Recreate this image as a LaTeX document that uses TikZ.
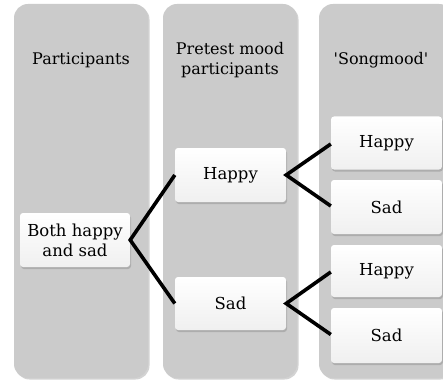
\documentclass[tikz,border=0pt]{standalone}
\usepackage{fontspec}
\setmainfont{DejaVu Serif}[Ligatures=TeXOff]
\usetikzlibrary{shadows}
\begin{document}
\begin{tikzpicture}[x=1pt,y=-1pt,
  colbox/.style={draw=none, fill=colgray, rounded corners=14pt, minimum width=134pt, minimum height=374pt,
    drop shadow={shadow xshift=1.5pt, shadow yshift=-1.5pt, opacity=0.35}},
  title/.style={align=center, font=\fontsize{16}{20}\selectfont, text=black},
  item/.style={draw=none, rounded corners=3pt, top color=white, bottom color=black!6, minimum width=111pt, minimum height=53pt,
    align=center, font=\fontsize{16.5}{20}\selectfont, inner sep=1pt,
    drop shadow={shadow xshift=1pt, shadow yshift=-2pt, opacity=0.4}},
  link/.style={line width=3.6pt, line join=miter}
]
\definecolor{colgray}{RGB}{203,203,203}
\useasboundingbox (0,0) rectangle (443,382);
\begin{scope}
\clip (0,0) rectangle (443,382);
\node[colbox] (col1) at (81,191) {};
\node[colbox] (col2) at (230,191) {};
\node[colbox] (col3) at (386,191) {};
\node[title] (t1) at (81,60) {Participants};
\node[title] (t2) at (230,60) {Pretest mood\\participants};
\node[title] (t3) at (381,60) {'Songmood'};
\node[item, minimum width=110pt, minimum height=54pt] (both) at (75,240) {Both happy\\and sad};
\node[item, minimum height=54pt] (h2) at (230.5,175) {Happy};
\node[item] (s2) at (230.5,303.5) {Sad};
\node[item] (h3a) at (386.5,143) {Happy};
\node[item, minimum height=54pt] (s3a) at (386.5,207) {Sad};
\node[item, minimum height=52pt] (h3b) at (386.5,271) {Happy};
\node[item, minimum height=55pt] (s3b) at (386.5,335.5) {Sad};
\draw[link] (h2.west) -- (both.east) -- (s2.west);
\draw[link] ([yshift=-1pt]h3a.west) -- (h2.east) -- ([yshift=1pt]s3a.west);
\draw[link] ([yshift=-1pt]h3b.west) -- (s2.east) -- ([yshift=1pt]s3b.west);
\end{scope}
\end{tikzpicture}
\end{document}
